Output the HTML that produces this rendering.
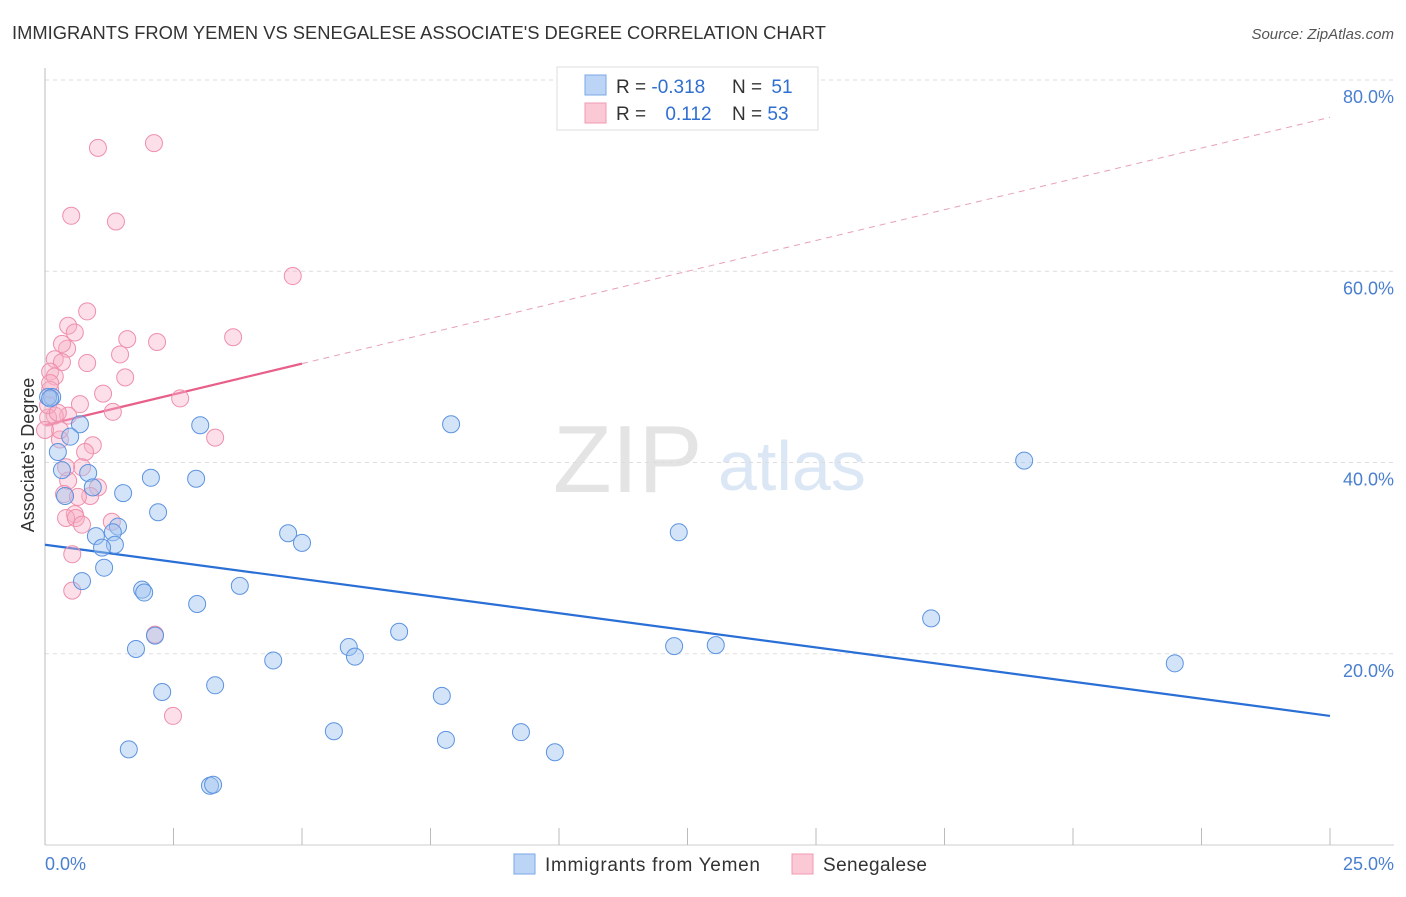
<!DOCTYPE html>
<html><head><meta charset="utf-8"><style>
body{margin:0;background:#fff;font-family:"Liberation Sans",sans-serif;}
svg text{font-family:"Liberation Sans",sans-serif;}
</style></head><body>
<svg id="chart" width="1406" height="892" xmlns="http://www.w3.org/2000/svg">
<text x="12" y="39" font-size="18" fill="#333" textLength="814" lengthAdjust="spacingAndGlyphs">IMMIGRANTS FROM YEMEN VS SENEGALESE ASSOCIATE'S DEGREE CORRELATION CHART</text>
<text x="1394" y="39" font-size="15" fill="#555" font-style="italic" text-anchor="end">Source: ZipAtlas.com</text>
<g>
<text x="553" y="492" font-size="96" fill="#e4e4e4" font-family="Liberation Serif">ZIP</text>
<text x="718" y="490" font-size="70" fill="#dce7f5">atlas</text>
</g>
<g id="grid"></g>
<g id="axes"></g>
<g id="lines"></g>
<g id="points"></g>
<text transform="translate(34,455) rotate(-90)" font-size="18" fill="#333" text-anchor="middle">Associate's Degree</text>
<text x="45" y="870" font-size="18" fill="#4a7fd0">0.0%</text>
<text x="1394" y="870" font-size="18" fill="#4a7fd0" text-anchor="end">25.0%</text>
<g>
<rect x="557" y="67" width="261" height="63" fill="#fff" stroke="#ddd"/>
<rect x="585" y="75" width="21" height="20" fill="#bcd4f5" stroke="#7aa7e6"/>
<rect x="585" y="103" width="21" height="20" fill="#fbc8d6" stroke="#f09ab2"/>
<text x="616" y="93" font-size="19" fill="#333">R = <tspan fill="#2f6fd0">-0.318</tspan></text>
<text x="732" y="93" font-size="19" fill="#333">N = <tspan fill="#2f6fd0" dx="4">51</tspan></text>
<text x="616" y="120" font-size="19" fill="#333">R = <tspan fill="#2f6fd0" dx="14">0.112</tspan></text>
<text x="732" y="120" font-size="19" fill="#333">N = <tspan fill="#2f6fd0">53</tspan></text>
</g>
<g>
<rect x="514" y="854" width="21" height="20" fill="#bcd4f5" stroke="#7aa7e6"/>
<text x="545" y="871" font-size="19" fill="#333" textLength="215">Immigrants from Yemen</text>
<rect x="792" y="854" width="21" height="20" fill="#fbc8d6" stroke="#f09ab2"/>
<text x="823" y="871" font-size="19" fill="#333" textLength="104">Senegalese</text>
</g>
</svg>
<script>
const yTicks=[20,40,60,80];
const yTickLabels=["20.0%","40.0%","60.0%","80.0%"];
const xTicks=[0,2.5,5,7.5,10,12.5,15,17.5,20,22.5,25];
const blueX=[0.14,0.06,0.68,0.49,0.25,0.33,0.84,0.39,0.93,1.52,2.06,2.94,3.02,2.20,1.42,1.32,0.99,1.36,1.11,1.15,0.72,1.89,1.93,2.96,3.79,4.73,5.00,7.90,12.33,19.05,2.14,1.77,4.44,5.91,6.03,6.89,12.24,13.05,17.24,21.98,2.28,3.31,7.72,1.63,5.62,7.80,9.26,9.92,3.21,3.27,0.10];
const blueY=[46.85,46.85,44.0,42.7,41.1,39.2,38.9,36.5,37.4,36.8,38.4,38.3,43.9,34.8,33.3,32.7,32.3,31.4,31.1,29.0,27.6,26.7,26.4,25.2,27.1,32.6,31.6,44.0,32.7,40.2,21.9,20.5,19.3,20.7,19.7,22.3,20.8,20.9,23.7,19.0,16.0,16.7,15.6,10.0,11.9,11.0,11.8,9.7,6.2,6.3,46.7];
const pinkX=[2.12,1.03,0.51,1.38,4.82,0.82,0.45,0.58,3.66,1.60,2.18,0.43,0.33,0.19,1.46,0.82,0.33,0.10,1.56,0.19,0.10,1.13,2.63,0.68,1.32,0.45,0.19,0.06,3.31,0.29,0.93,0.78,0.72,0.45,1.03,0.88,0.37,0.64,0.58,0.41,0.60,0.72,1.30,0.53,0.53,2.14,2.49,0.06,0.25,0.10,0.29,0.41,0.0];
const pinkY=[73.4,72.9,65.8,65.2,59.5,55.8,54.3,53.6,53.1,52.9,52.6,51.9,52.4,50.8,51.3,50.4,50.5,49.5,48.9,49.0,47.6,47.2,46.7,46.1,45.3,44.9,44.9,44.7,42.6,42.4,41.8,41.1,39.5,38.1,37.4,36.5,36.7,36.4,34.6,34.2,34.2,33.5,33.8,30.4,26.6,22.0,13.5,46.0,45.2,48.3,43.4,39.5,43.4];
const blueTrend=[31.4,13.5];
const pinkTrend=[43.9,76.1];
const pinkSolidEnd=5;

const NS="http://www.w3.org/2000/svg";
const X=v=>45+v*51.4;
const Y=v=>845-v*9.5625;
function mk(tag,parent,attrs){const e=document.createElementNS(NS,tag);for(const k in attrs)e.setAttribute(k,attrs[k]);document.getElementById(parent).appendChild(e);return e;}

yTicks.forEach((t,i)=>{
 const l=mk('line','grid',{x1:45,x2:1394,y1:Y(t),y2:Y(t),stroke:'#ddd','stroke-dasharray':'4,4'});
 
 
 const tx=mk('text','grid',{x:1394,y:Y(t)+23,'font-size':18,fill:'#4a7fd0','text-anchor':'end'});
 tx.textContent=yTickLabels[i];
 
 
});
const ya=mk('line','axes',{x1:45,x2:45,y1:68,y2:845,stroke:'#bbb'});


const xa=mk('line','axes',{x1:45,x2:1394,y1:845,y2:845,stroke:'#ccc'});


xTicks.forEach(t=>{
 const l=mk('line','axes',{x1:X(t),x2:X(t),y1:828,y2:845,stroke:'#bbb'});
 
 
});

const bl=mk('line','lines',{x1:X(0),y1:Y(blueTrend[0]),x2:X(25),y2:Y(blueTrend[1]),stroke:'#2a6fd6','stroke-width':2.2});


const pAt=x=>pinkTrend[0]+(pinkTrend[1]-pinkTrend[0])*x/25;
const ps=mk('line','lines',{x1:X(0),y1:Y(pinkTrend[0]),x2:X(pinkSolidEnd),y2:Y(pAt(pinkSolidEnd)),stroke:'#e8608a','stroke-width':2.2});


const pd=mk('line','lines',{x1:X(pinkSolidEnd),y1:Y(pAt(pinkSolidEnd)),x2:X(25),y2:Y(pinkTrend[1]),stroke:'#e8a0b6','stroke-width':1,'stroke-dasharray':'6,5'});



pinkX.forEach((x,i)=>{
 const c=mk('circle','points',{cx:X(x),cy:Y(pinkY[i]),r:8.5,fill:'rgba(248,176,198,0.4)',stroke:'#ef8fac','stroke-width':1});
 
 
});
blueX.forEach((x,i)=>{
 const c=mk('circle','points',{cx:X(x),cy:Y(blueY[i]),r:8.5,fill:'rgba(160,196,240,0.45)',stroke:'#5b93e0','stroke-width':1});
 
 
});
</script>
</body></html>
